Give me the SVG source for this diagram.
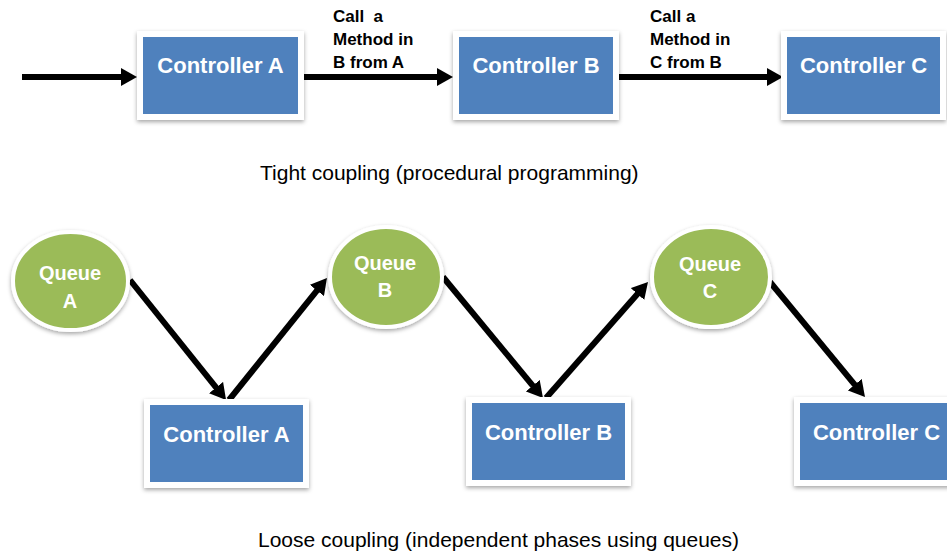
<svg xmlns="http://www.w3.org/2000/svg" width="947" height="552" viewBox="0 0 947 552">
<defs>
<style>
.frame{fill:#ffffff;filter:url(#sh);}
.box{fill:#4f81bd;}
.q{fill:#9bbb59;stroke:#ffffff;stroke-width:4;filter:url(#sh);}
.bt{font-family:"Liberation Sans",Arial,sans-serif;font-weight:bold;font-size:22px;fill:#ffffff;text-anchor:middle;}
.qt{font-family:"Liberation Sans",Arial,sans-serif;font-weight:bold;font-size:20px;fill:#ffffff;text-anchor:middle;}
.lbl{font-family:"Liberation Sans",Arial,sans-serif;font-weight:bold;font-size:17px;fill:#000000;}
.cap{font-family:"Liberation Sans",Arial,sans-serif;font-size:21px;fill:#000000;}
.ar{stroke:#000000;stroke-width:6;fill:none;marker-end:url(#ah);}
</style>
<filter id="sh" x="-20%" y="-20%" width="140%" height="150%">
<feDropShadow dx="0" dy="2" stdDeviation="2" flood-color="#000000" flood-opacity="0.35"/>
</filter>
<marker id="ah" viewBox="0 0 16 18" refX="6" refY="9" markerWidth="16" markerHeight="18" markerUnits="userSpaceOnUse" orient="auto">
<path d="M0,0 L16,9 L0,18 z" fill="#000000"/>
</marker>
</defs>
<rect width="947" height="552" fill="#ffffff"/>

<g id="connectors">
<line class="ar" x1="22" y1="77" x2="127" y2="77"/>
<line class="ar" x1="303" y1="77" x2="443" y2="77"/>
<line class="ar" x1="619" y1="77" x2="773" y2="77"/>
<line class="ar" x1="130" y1="280" x2="219.8" y2="392.2"/>
<line class="ar" x1="229" y1="400" x2="320.7" y2="285.8"/>
<line class="ar" x1="443" y1="277" x2="536.6" y2="390.3"/>
<line class="ar" x1="546" y1="398" x2="641.4" y2="289.5"/>
<line class="ar" x1="770" y1="282" x2="858.6" y2="389.3"/>
<text class="lbl" x="333" y="22" xml:space="preserve">Call  a</text>
<text class="lbl" x="333" y="45">Method in</text>
<text class="lbl" x="333" y="68">B from A</text>
<text class="lbl" x="650" y="22">Call a</text>
<text class="lbl" x="650" y="45">Method in</text>
<text class="lbl" x="650" y="68">C from B</text>
</g>

<g id="top-controller-a">
<rect class="frame" x="137" y="31" width="167" height="89"/>
<rect class="box" x="143" y="37" width="155" height="77"/>
<text class="bt" x="220.5" y="73">Controller A</text>
</g>
<g id="top-controller-b">
<rect class="frame" x="453" y="31" width="166" height="89"/>
<rect class="box" x="459" y="37" width="154" height="77"/>
<text class="bt" x="536" y="73">Controller B</text>
</g>
<g id="top-controller-c">
<rect class="frame" x="781" y="31" width="165" height="89"/>
<rect class="box" x="787" y="37" width="153" height="77"/>
<text class="bt" x="863.5" y="73">Controller C</text>
</g>

<g id="queue-a">
<ellipse class="q" cx="70.5" cy="281" rx="57.5" ry="49"/>
<text class="qt" x="70" y="280">Queue</text>
<text class="qt" x="70" y="308">A</text>
</g>
<g id="queue-b">
<ellipse class="q" cx="386" cy="277" rx="56" ry="50"/>
<text class="qt" x="385" y="270">Queue</text>
<text class="qt" x="385" y="297">B</text>
</g>
<g id="queue-c">
<ellipse class="q" cx="711" cy="277" rx="59" ry="50"/>
<text class="qt" x="710" y="271">Queue</text>
<text class="qt" x="710" y="298">C</text>
</g>

<g id="bottom-controller-a">
<rect class="frame" x="144" y="399" width="165" height="89"/>
<rect class="box" x="150" y="405" width="153" height="77"/>
<text class="bt" x="226.5" y="442">Controller A</text>
</g>
<g id="bottom-controller-b">
<rect class="frame" x="466" y="397" width="165" height="89"/>
<rect class="box" x="472" y="403" width="153" height="77"/>
<text class="bt" x="548.5" y="440">Controller B</text>
</g>
<g id="bottom-controller-c">
<rect class="frame" x="794" y="397" width="165" height="89"/>
<rect class="box" x="800" y="403" width="153" height="77"/>
<text class="bt" x="876.5" y="440">Controller C</text>
</g>

<text class="cap" x="260" y="180">Tight coupling (procedural programming)</text>
<text class="cap" x="258" y="547">Loose coupling (independent phases using queues)</text>
</svg>
